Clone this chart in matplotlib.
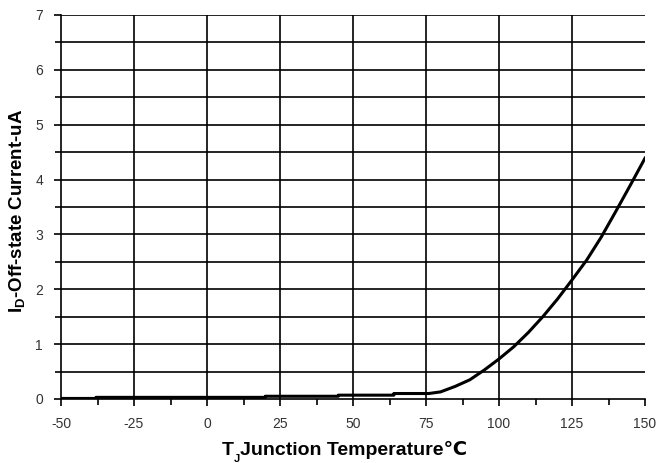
import numpy as np
import matplotlib
matplotlib.use("Agg")
import matplotlib.pyplot as plt
from matplotlib.ticker import MultipleLocator

plt.rcParams['font.family'] = ['Liberation Sans', 'DejaVu Sans']
plt.rcParams['axes.unicode_minus'] = False
plt.rcParams['mathtext.fontset'] = 'custom'
plt.rcParams['mathtext.rm'] = 'Liberation Sans:bold'

# junction temperature (C) and off-state current (uA)
temp = [-50, -38, -38, 20, 20, 45, 45, 64, 64, 76, 80, 85, 90, 95, 100,
        105, 110, 115, 120, 125, 130, 135, 140, 145, 150]
current = [0.01, 0.01, 0.03, 0.03, 0.05, 0.05, 0.07, 0.07, 0.1, 0.1, 0.13,
           0.23, 0.35, 0.53, 0.73, 0.95, 1.21, 1.5, 1.82, 2.17, 2.53, 2.95,
           3.42, 3.9, 4.39]

x_ticks = [-50, -25, 0, 25, 50, 75, 100, 125, 150]
y_ticks = [0, 1, 2, 3, 4, 5, 6, 7]

fig = plt.figure(figsize=(6.57, 4.63), dpi=100)
ax = fig.add_axes([61 / 657, 64 / 463, 584 / 657, 384 / 463])

# grid lines
for v in np.arange(0.5, 7.01, 0.5):
    ax.axhline(v, color='black', lw=1.2, zorder=1)
for v in x_ticks[1:-1]:
    ax.axvline(v, color='black', lw=1.2, zorder=1)

ax.plot(temp, current, color='black', lw=2.2, zorder=3)

ax.set_xlim(-50, 150)
ax.set_ylim(0, 7)
ax.set_xticks(x_ticks)
ax.set_yticks(y_ticks)
ax.xaxis.set_minor_locator(MultipleLocator(12.5))
ax.yaxis.set_minor_locator(MultipleLocator(0.5))
ax.tick_params(axis='both', which='both', direction='out', width=1.2,
               color='black', labelsize=10, labelcolor='#333333')
ax.tick_params(axis='both', which='major', length=5, pad=8)
ax.tick_params(axis='both', which='minor', length=4)

for s in ['top', 'right']:
    ax.spines[s].set_visible(False)
for s in ['left', 'bottom']:
    ax.spines[s].set_linewidth(1.2)

# y label with subscript D
ax.set_ylabel(r'I$_\mathregular{D}$-Off-state Current-uA', fontsize=13.5,
              fontweight='bold')
ax.yaxis.set_label_coords(-0.056, 0.49)

# x label pieces: T, subscript J, rest (℃ falls back to DejaVu Sans)
t1 = fig.text(222 / 657, 8 / 463, 'T', fontsize=14, fontweight='bold',
              va='baseline', ha='left')
t2 = ax.annotate('J', xy=(1, 0), xycoords=t1, xytext=(0, -3),
                 textcoords='offset pixels', fontsize=8, fontweight='bold',
                 va='baseline', ha='left', annotation_clip=False)
t3 = ax.annotate('Junction Temperature℃', xy=(1, 0), xycoords=(t2, t1),
                 fontsize=14, fontweight='bold', va='bottom', ha='left',
                 annotation_clip=False)

fig.savefig('out.png', dpi=100)
